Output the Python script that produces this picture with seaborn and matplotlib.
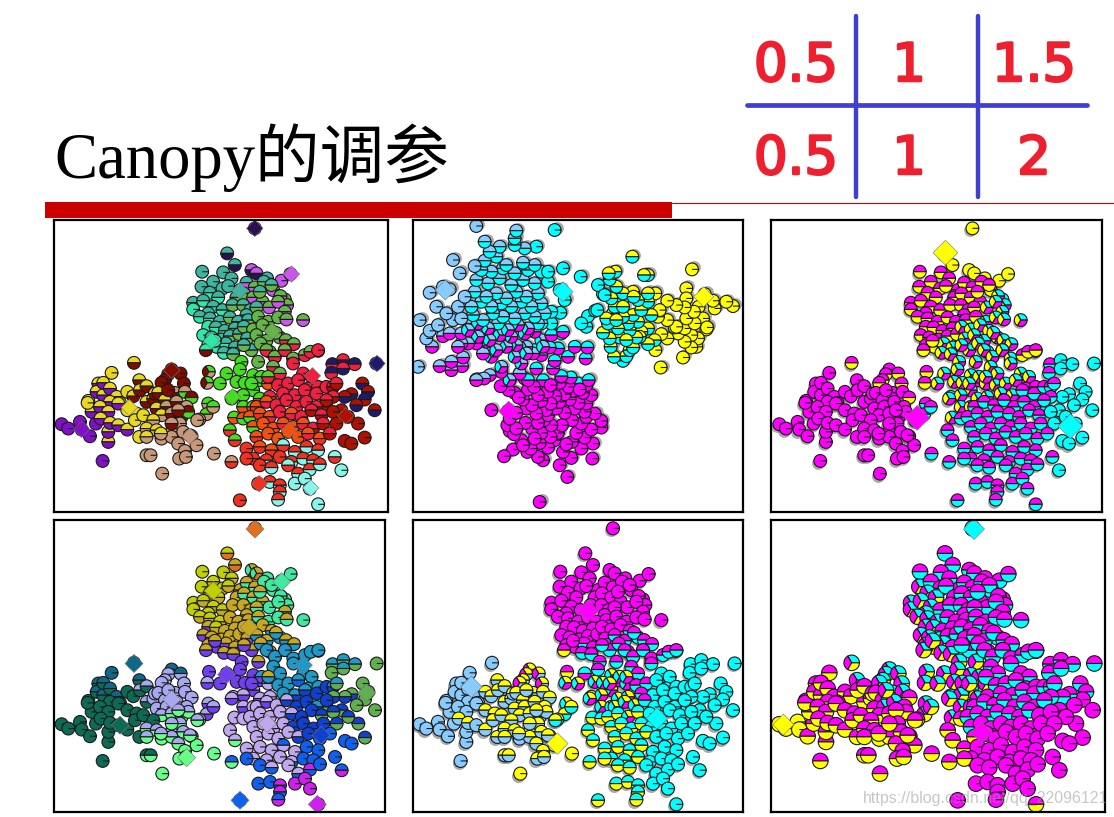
import matplotlib
matplotlib.use("Agg")
import matplotlib.pyplot as plt
import matplotlib.patheffects as pe
import matplotlib.transforms as mtrans
from matplotlib.markers import MarkerStyle
from matplotlib.patches import Rectangle
from matplotlib.path import Path
import pandas as pd
import seaborn as sns

# ---- point positions, same sample in every panel, one pair of lists per blob ----
A1_X = [562, 585, 487, 550, 485, 520, 548, 575, 600, 510, 535, 565, 590, 460, 460, 490, 520, 548, 578, 505]
A1_Y = [130, 165, 185, 187, 230, 215, 235, 205, 240, 248, 262, 228, 262, 278, 298, 272, 290, 300, 285, 310]
A2_X = [635, 650, 682, 725, 752, 620, 645, 672, 700, 735, 612, 640, 668, 695, 722, 742, 610, 632, 660, 688, 715, 735, 620, 650]
A2_Y = [180, 190, 205, 212, 192, 218, 232, 215, 240, 268, 250, 262, 275, 225, 258, 285, 285, 300, 245, 292, 275, 305, 315, 292]
A3_X = [480, 510, 540, 570, 595, 505, 528, 555, 585, 490, 515, 545, 570, 598, 505, 530, 558, 585, 498, 525, 552, 580]
A3_Y = [320, 325, 335, 322, 335, 350, 352, 362, 355, 375, 382, 388, 378, 372, 405, 410, 400, 412, 420, 392, 428, 432]
A4_X = [625, 655, 685, 715, 740, 790, 612, 640, 668, 695, 720, 622, 650, 680, 708, 738, 635, 612, 662, 690, 762, 735, 705, 835]
A4_Y = [330, 320, 335, 322, 328, 330, 350, 358, 345, 362, 382, 385, 375, 392, 368, 390, 420, 405, 400, 425, 402, 420, 440, 422]
B1_X = [65, 85, 120, 125, 150, 145, 168, 155, 188, 205, 175, 143, 170, 205, 190, 215]
B1_Y = [642, 655, 635, 658, 678, 572, 640, 605, 752, 695, 520, 578, 545, 665, 555, 488]
B2_X = [190, 210, 230, 262, 280, 298, 240, 210, 180, 205, 235, 262, 290, 320, 182, 210, 235, 262, 285, 310, 340, 282, 300, 320, 345, 298]
B2_Y = [518, 535, 560, 545, 558, 510, 578, 575, 590, 605, 580, 600, 610, 575, 625, 638, 645, 658, 630, 615, 565, 458, 540, 528, 550, 680]
B3_X = [395, 385, 375, 365, 422, 432, 355, 375, 405, 435, 455, 350, 380, 410, 440, 365, 395, 425, 445, 415, 340, 385]
B3_Y = [478, 492, 510, 518, 490, 520, 548, 570, 548, 545, 562, 595, 590, 575, 590, 615, 610, 620, 605, 600, 630, 540]
B4_X = [320, 350, 365, 395, 420, 395, 430, 455, 470, 415, 435, 418, 438, 320, 332, 367, 320, 363, 395, 450]
B4_Y = [655, 660, 685, 665, 640, 680, 665, 678, 705, 700, 722, 745, 740, 735, 735, 790, 680, 670, 640, 675]
B5_X = [507, 502, 560, 540, 505, 500, 520, 478, 472, 522]
B5_Y = [485, 518, 490, 520, 580, 612, 590, 628, 630, 730]
C1_X = [605, 600, 655, 640, 660, 590, 615, 640, 665, 580, 610, 635, 660, 685, 575, 583, 610, 640, 570, 585, 610, 650]
C1_Y = [455, 478, 455, 495, 510, 515, 518, 540, 500, 560, 555, 520, 565, 520, 565, 622, 590, 590, 660, 690, 625, 625]
C2_X = [680, 705, 735, 760, 795, 812, 835, 700, 720, 760, 790, 815, 685, 715, 745, 775, 805, 835, 690, 730, 765, 795, 830, 860]
C2_Y = [420, 440, 420, 445, 435, 425, 420, 470, 490, 460, 490, 500, 500, 525, 520, 510, 535, 530, 560, 550, 555, 540, 550, 530]
C3_X = [878, 910, 945, 875, 910, 880, 968, 985, 975, 1005, 890, 935, 915, 950, 880, 905, 955, 975, 915, 935, 860, 925]
C3_Y = [462, 450, 462, 488, 475, 530, 520, 545, 568, 600, 520, 552, 560, 585, 560, 600, 640, 682, 692, 700, 590, 620]
C4_X = [650, 680, 710, 740, 770, 800, 830, 860,
        630, 660, 690, 720, 755, 785, 815, 845, 880,
        640, 670, 700, 730, 760, 790, 820, 850, 890,
        650, 685, 715, 745, 775, 805, 840, 870]
C4_Y = [590, 575, 585, 570, 590, 575, 590, 570,
        620, 610, 620, 605, 610, 620, 600, 615, 605,
        650, 640, 655, 640, 650, 640, 655, 640, 640,
        680, 670, 685, 665, 680, 670, 685, 670]
C5_X = [620, 660, 695, 730, 765, 800, 835, 885,
        640, 680, 720, 755, 790, 820,
        620, 660, 695, 745, 775, 810, 840,
        905, 575, 655, 690, 720, 720, 765, 795,
        715, 600, 835, 810]
C5_Y = [715, 710, 720, 705, 725, 710, 720, 740,
        745, 750, 740, 755, 745, 750,
        745, 765, 772, 765, 790, 778, 762,
        780, 755, 820, 815, 825, 845, 820, 805,
        868, 870, 882, 835]
OUT_X = [645, 1010]
OUT_Y = [55, 460]

REGION_X = [A1_X, A2_X, A3_X, A4_X, B1_X, B2_X, B3_X, B4_X, B5_X, C1_X, C2_X, C3_X, C4_X, C5_X, OUT_X]
REGION_Y = [A1_Y, A2_Y, A3_Y, A4_Y, B1_Y, B2_Y, B3_Y, B4_Y, B5_Y, C1_Y, C2_Y, C3_Y, C4_Y, C5_Y, OUT_Y]

# ---- pie slices of every point per panel: one letter per slice, same region order ----
LABELS_1 = [
    "tn tn t t t t t t t tq tq t tg tq q tq tq tq tg tq",
    "vn vn tg v v tv gv tg gv gv tg gv gv tg gv gv tg tg tg gv gv gv tg tg",
    "tq tq tq tg tg q tq tq tg q tq tq tg tg q tq tq tg qm q tq tg",
    "tg g g g gv gv tg g g g g tg g g g gr tg tg g gr gr gr gr r",
    "p p p p p yp p yp p yp yp y yp yp yp y",
    "yp yp yp y ym ym yp yp yp yp yp y y ym yp yp yp yp y y ym ym ym ym ym y",
    "m m m m m m ym ym km kl ml ym km km kl yk km km ml km yk m",
    "yk yk yk k k k k k k k k k k k k k yk yk km k",
    "lmk lmk l l lk lk lk k k k",
    "l l g l l l l l lg l l l lo lo l lo lo lo lf lf ol ol",
    "gr gr gr gr gr gr r gr gr r r r lr r r r r r ro r r r r r",
    "br rb br br rb rd db db bd db rd db db db rd d d d d d rd d",
    "of or r r r r rd rd ol of or r or r rd rd d ol o o or o or rd rd d of o o o o or of rd",
    "f of of cf fc fc fc cf f fc f fc fc fc f f fc cf fc fc fc c kf f fc fc fc c c fc f c c",
    "n b",
]
LABELS_2 = [
    "m m m m m m m m m m m m m m m m m m m m",
    "m m m m m m m m m m m m m m m m m m m m m m m m",
    "m m m m m m m m m m m m m m cm cm m cm cm m cm cm",
    "m m m m m m m m m m m m m m m m cm m m cm m m cm m",
    "y y y y y y y y y y y y y y y y",
    "y y y y y y y y y y y y y yc y y y y y yc yc y yc yc yc y",
    "yc yc yc yc yc yc yc yc yc yc yc yc yc yc yc yc yc yc yc yc yc yc",
    "yc yc yc yc yc yc yc c c yc yc yc yc yc yc yc yc yc yc c",
    "cm cm cm cm c c c c c c",
    "cm cm cm cm cm cm cm acm acm c cm acm acm acm cm c c ac c c c ac",
    "cm am acm am am am am acm acm acm acm am acm acm acm acm acm am acm acm acm acm acm am",
    "am am am am am am am a a a am am am a am a a a a a ac a",
    "ac acm acm acm ac acm acm acm ac ac ac ac ac ac ac ac a ac ac ac ac ac ac ac ac a ac ac ac ac ac ac ac a",
    "c ac ac ac ac ac ac a c ac ac ac ac ac c ac ac ac ac ac a a c c ac ac ac ac ac ac c a ac",
    "m a",
]
LABELS_3 = [
    "y y my my my my my my my my my my my my my my my my my my",
    "y y y y y my my my my cym my my my my cym cym my my my cym cym cym my my",
    "my my my my my my my my my my my my my my my my cym cym my my cym cym",
    "my my cym cym cym cym cym cym cym cym cym cym cym cym cym cym cym cym cym cym cym cym cym cym",
    "m m m m m m m m m m m m m m m m",
    "m m m m m m m m m m m m m m m m m m m m m my m m m m",
    "my my my my my my m m m m my m m m m m m m m m m m",
    "m m m m m m m m m m m m m m m m m m m m",
    "my my cym cym mc mc mc m m mc",
    "cym cym cym cym cym cym cym cym cym cym cym cym cym cym cym cym cym cym mc mc mc mc",
    "cym cym cym cym my my my cym cym cym cym cym cym cym cym cym mc mc cym cym cym mc mc mc",
    "mc c c mc c mc c c c c mc c c c mc c c c c c mc c",
    "mc mc mc mc mc mc mc mc mc mc mc mc mc mc mc mc c mc mc mc mc mc mc mc mc c mc mc mc mc mc mc mc mc",
    "mc mc mc mc mc mc mc mc mc mc mc mc mc mc mc mc mc mc mc mc mc c mc mc mc mc mc mc mc mc mc mc mc",
    "y c",
]
LABELS_4 = [
    "uO iO u u u ui ui ui ij ui ui ui i u u ui ui ui i ui",
    "ijO ijO j j j ij ij j j j ij ij ij j j j i ij ij j j ia ij ij",
    "ui ui ui i i iz ui i i iz iz iz i i iz iz iz iz iz iz iz iz",
    "ij ij j j ij j i ij i ia ia iz ia ia ia ia iz iz ia ia ia ia ia a",
    "e e e e e e e e e e he e he e he h",
    "he he he e e he e e e e e e e we e e e e e e w h we we w e",
    "hw w w w hw w w w w w w w w w wx wx wx wx wx wx e w",
    "wx wx wx wx wx wx wx wx x wx x x x ex ex x wx wx wx wx",
    "z wz z z wz wz wz wx wx x",
    "z z iz z az z z Lz az Lz Lz z Lz aL Lz L Lz L L Lx L L",
    "a a a a a a a a a a a a ia a a aD a a L a aB aB B B",
    "as as as s as aB s s s s as sB sB s sB Bs Bs Bs D D Bs Bs",
    "L Lz L LB B B aB B L L L L LB B B Bs Bs L L L L B B B B Bs L L L L LB B D D",
    "L L L DL L D D D L L L LD D D D D LD L LD MD D DM Dx D D MD MD M M DM D M M",
    "O s",
]
LABELS_5 = [
    "m m m m m m m m m m m m m m m m m m m m",
    "m m m m m m m m m m m m m m m m m m m m m m m m",
    "m m m m m m m m m m m m m m m m mc mc my m mc mc",
    "m m m m m m m m m mc mc m mc mc mc mc mc mc mc mc mc mc mc mc",
    "a a a a a a a a a a a a a a a a",
    "a a a ya ya ya a a a a a ya ya ya ya ya a ya ya ya ya a ya ya ya ya",
    "yma yma yma yma yma yma ya ya yma ya ya ya ya ya ya ya ya ya ya ya ya ya",
    "ya ya ya ya ya ya ya ya y ya ya ya ya ya ya y ya ya ya ya",
    "my ycm cm ycm ycm yc yc yc yc y",
    "mc mc mc ycm ycm ycm ycm ycm ycm ycm ycm ycm ycm ycm ycm cy ycm ycm cy cy cy cy",
    "mc mc mc mc mc mc mc mc mc mc c c ycm mc mc c c c ycm mc c c c c",
    "c c c c c c c c c c c c c c c c c c c c c c",
    "ycm ycm ycm mc c c c c cy cy ycm cy c c c c c cy cy cy cy c c c c c cy cy cy cy c c c c",
    "cy cy cy cy c c c c cy cy cy c c c cy cy cy c c c c c cy cy cy cy cy c c cy cy c c",
    "m c",
]
LABELS_6 = [
    "mc mc mc mc cmy mc mc mc mc cmy cmy mc mc cmy cmy cmy cmy mc mc cmy",
    "mc mc mc mc mc mc mc mc mc mc mc mc mc mc mc mc mc mc mc mc mc mc mc mc",
    "cmy cmy cmy mc mc cmy cmy mc mc cmy cmy cmy mc mc cmy cmy cmy mc cmy cmy cmy cmy",
    "mc mc mc mc mc mc mc mc mc mc mc mc mc mc mc mc mc mc mc mc mc mc mc mc",
    "y y y y my my my my my my my my my my my my",
    "my my my my my cmy my my my my my my my my my my my my my my my cmy my my my my",
    "cmy cmy cmy cmy cmy cmy my cmy cmy cmy my my cmy cmy my my my my my my my cmy",
    "my my my my my my my my my my my my my my my my my my my my",
    "cmy cmy cmy cmy cmy cmy cmy my my my",
    "cmy cmy cmy cmy cmy cmy cmy cmy cmy cmy cmy cmy cmy cmy cmy cmy cmy cmy my my my mc",
    "mc mc mc mc mc mc mc mc mc mc mc mc mc mc mc mc mc mc mc mc mc mc mc mc",
    "mc mc mc mc mc mc mc mc m m mc mc mc m mc m m m m m m m",
    "mc mc mc mc mc mc mc mc mc mc mc mc mc mc mc m m mc m m m m m m m m my m m m m m m m",
    "my m m m m m m m m m m m m m my m m m m m m m my m m m m m m m m my m m",
    "c mc",
]

# ---- colours of the clusters ----
PALETTE_1 = {"t": "#3fb5a0", "q": "#2fe8a8", "g": "#66b54a", "v": "#cc55f0", "n": "#2a1050",
             "l": "#44dd22", "r": "#f02040", "o": "#f05010", "d": "#b01000", "b": "#1e1a70",
             "c": "#88f5ea", "f": "#f03020", "y": "#e8d820", "p": "#8010c8", "m": "#800c00",
             "k": "#c89878"}
PALETTE_4 = {"e": "#0d6b55", "h": "#106888", "w": "#a8a8f0", "x": "#66ff88", "u": "#c0d000",
             "i": "#c8a820", "j": "#40e8a0", "z": "#7040f0", "a": "#2098c8", "s": "#60b050",
             "B": "#1040d0", "L": "#c0a8ee", "D": "#1060f0", "M": "#d020f0", "O": "#e07020"}
PALETTE_PLAIN = {"m": "#ff00ff", "c": "#00ffff", "y": "#ffff00", "a": "#88ccff"}

# ---- cluster centres (diamonds) per panel ----
CENTRES_1_X = [645, 755, 600, 697, 515, 818, 1012, 578, 268, 125, 748, 918, 658, 813, 395, 450]
CENTRES_1_Y = [55, 192, 242, 363, 392, 497, 460, 560, 592, 657, 660, 617, 820, 833, 480, 678]
CENTRES_1_C = ["n", "v", "t", "g", "q", "r", "b", "l", "y", "p", "o", "d", "f", "c", "m", "k"]
CENTRES_2_X = [928, 575, 153, 738]
CENTRES_2_Y = [690, 685, 670, 327]
CENTRES_2_C = ["a", "c", "y", "m"]
CENTRES_3_X = [564, 479, 939]
CENTRES_3_Y = [128, 623, 648]
CENTRES_3_C = ["y", "m", "c"]
CENTRES_4_X = [645, 520, 725, 627, 282, 240, 395, 440, 790, 980, 600, 832, 843, 682, 560]
CENTRES_4_Y = [57, 242, 215, 352, 460, 645, 568, 742, 465, 548, 870, 882, 675, 640, 493]
CENTRES_4_C = ["O", "u", "j", "i", "h", "e", "w", "x", "a", "s", "D", "M", "B", "L", "z"]
CENTRES_5_X = [570, 220, 478, 777]
CENTRES_5_Y = [303, 530, 700, 625]
CENTRES_5_C = ["m", "a", "y", "c"]
CENTRES_6_X = [649, 77, 672]
CENTRES_6_Y = [57, 643, 667]
CENTRES_6_C = ["c", "y", "m"]

TITLE = "Canopy的调参"
TABLE_ROW1 = ["0.5", "1", "1.5"]
TABLE_ROW2 = ["0.5", "1", "2"]
WATERMARK = "https://blog.csdn.net/qq_22096121"

W, H = 1114, 817

SLICE_MARKERS = {
    "10": MarkerStyle(Path.make_compound_path(Path.unit_circle(), Path([[0, 0], [1, 0]]))),
    "20": MarkerStyle(Path.wedge(0, 180)),
    "21": MarkerStyle(Path.wedge(180, 360)),
    "30": MarkerStyle(Path.wedge(0, 120)),
    "31": MarkerStyle(Path.wedge(120, 240)),
    "32": MarkerStyle(Path.wedge(240, 360)),
}

# pixel box, x limits, y limits, labels, palette, centres, point size, diamond size, shadow shift
PANELS = [
    ((54, 220, 388, 512), (42, 1045), (905, 30), LABELS_1, PALETTE_1,
     (CENTRES_1_X, CENTRES_1_Y, CENTRES_1_C), 85, 70, None),
    ((413, 220, 743, 512), (1025, 35), (25, 900), LABELS_2, PALETTE_PLAIN,
     (CENTRES_2_X, CENTRES_2_Y, CENTRES_2_C), 85, 105, (2, 2)),
    ((771, 220, 1102, 512), (40, 1034), (905, 30), LABELS_3, PALETTE_PLAIN,
     (CENTRES_3_X, CENTRES_3_Y, CENTRES_3_C), 85, 160, (-2, -2)),
    ((54, 520, 385, 812), (42, 1035), (905, 30), LABELS_4, PALETTE_4,
     (CENTRES_4_X, CENTRES_4_Y, CENTRES_4_C), 85, 85, None),
    ((413, 520, 743, 812), (45, 1035), (905, 30), LABELS_5, PALETTE_PLAIN,
     (CENTRES_5_X, CENTRES_5_Y, CENTRES_5_C), 88, 120, (-2, -2)),
    ((771, 520, 1105, 812), (40, 1042), (905, 30), LABELS_6, PALETTE_PLAIN,
     (CENTRES_6_X, CENTRES_6_Y, CENTRES_6_C), 125, 115, None),
]


def slice_table(labels):
    rows = []
    for xs, ys, text in zip(REGION_X, REGION_Y, labels):
        for x, y, label in zip(xs, ys, text.split()):
            for i, letter in enumerate(label):
                rows.append({"x": x, "y": y, "colour": letter, "slice": f"{len(label)}{i}"})
    return pd.DataFrame(rows)


def draw_panel(fig, box, xlim, ylim, labels, palette, centres, size, dsize, shadow):
    left, top, right, bottom = box
    ax = fig.add_axes([left / W, 1 - bottom / H, (right - left) / W, (bottom - top) / H])
    df = slice_table(labels)
    if shadow is not None:
        shifted = mtrans.offset_copy(ax.transData, fig=fig, x=shadow[0], y=shadow[1], units="dots")
        sns.scatterplot(data=df.drop_duplicates(["x", "y"]), x="x", y="y", color="#555555", s=size,
                        alpha=0.5, linewidth=0, transform=shifted, legend=False, ax=ax)
    sns.scatterplot(data=df, x="x", y="y", hue="colour", palette=palette, style="slice",
                    markers=SLICE_MARKERS, s=size, edgecolor="#1a1a1a", linewidth=0.8,
                    alpha=1, legend=False, ax=ax)
    cdf = pd.DataFrame({"x": centres[0], "y": centres[1], "colour": centres[2]})
    sns.scatterplot(data=cdf, x="x", y="y", hue="colour", palette=palette, marker="D", s=dsize,
                    edgecolor="#777777", linewidth=0.4, legend=False, ax=ax)
    ax.set(xlim=xlim, ylim=ylim, xticks=[], yticks=[], xlabel="", ylabel="")
    for spine in ax.spines.values():
        spine.set_visible(True)
        spine.set_color("black")
        spine.set_linewidth(1.6)


sns.set_style("white")
fig = plt.figure(figsize=(W / 100, H / 100), dpi=100)

for panel in PANELS:
    draw_panel(fig, *panel)

# header drawn in pixel coordinates on a see-through layer
top = fig.add_axes([0, 0, 1, 1], zorder=5)
top.set(xlim=(0, W), ylim=(H, 0))
top.axis("off")
top.add_patch(Rectangle((45, 202), 627, 16, color="#cc0000", lw=0))
top.plot([672, W], [202.5, 202.5], color="#cc0000", lw=0.8)
top.text(54, 178, TITLE, fontsize=46.5, color="black", va="baseline",
         family=["Liberation Serif", "Noto Sans CJK SC"])

BLUE = "#4040d0"
top.plot([856, 856], [16, 197], color=BLUE, lw=3.2, solid_capstyle="round")
top.plot([978, 978], [16, 197], color=BLUE, lw=3.2, solid_capstyle="round")
top.plot([747, 1087], [105, 105], color=BLUE, lw=3.4, solid_capstyle="round")
for x, a, b in zip([796, 909, 1034], TABLE_ROW1, TABLE_ROW2):
    for y, s in zip([66, 159], [a, b]):
        top.text(x, y, s, fontsize=38, color="#ee2030", ha="center", va="center", family="DejaVu Sans",
                 path_effects=[pe.withStroke(linewidth=1.8, foreground="#ee2030")])

top.text(863, 798, WATERMARK, fontsize=11.5, color="#999999", alpha=0.55, va="center",
         family="Liberation Sans", clip_on=False)

fig.savefig("out.png", dpi=100)
